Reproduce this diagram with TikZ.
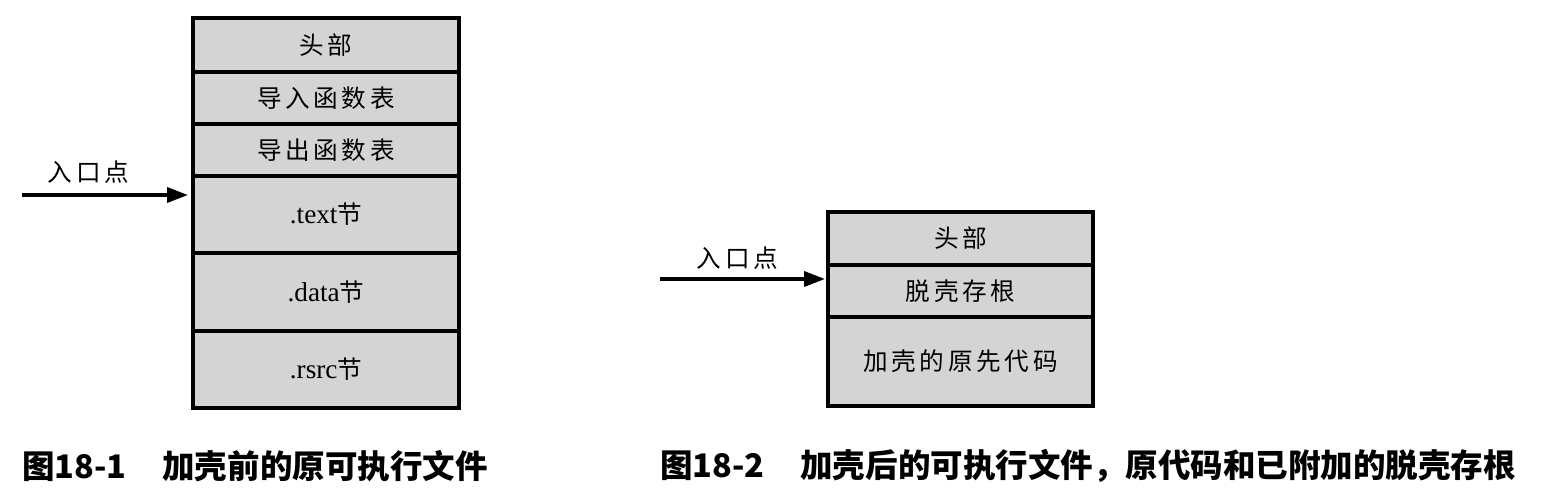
\documentclass[tikz,border=0pt]{standalone}
\usepackage{fontspec}
\setmainfont{Liberation Serif}
\newfontfamily\cjk[LetterSpace=15]{Noto Sans CJK SC}
\newfontfamily\capfont{Noto Sans CJK SC}
\newcommand{\cjktext}[1]{{\cjk\fontsize{14pt}{16pt}\selectfont #1}}
\usepackage{tikz}
\usetikzlibrary{arrows.meta, positioning}
\definecolor{sectfill}{RGB}{212,212,212}

\begin{document}
\begin{tikzpicture}[
    every node/.style={font=\fontsize{15.5pt}{17pt}\selectfont},
    sect/.style={draw, line width=2pt, fill=sectfill, rectangle,
        outer sep=0pt, inner sep=0pt, minimum width=5.32cm},
    entry/.style={line width=2pt, -{Triangle[length=0.42cm, width=0.3cm]}},
    caption/.style={anchor=west, inner sep=0pt,
        font=\capfont\bfseries\fontsize{18.5pt}{20pt}\selectfont},
]
    \useasboundingbox (0,0) rectangle (30.92,9.84);

    % Original executable
    \node[sect, minimum height=1.08cm, anchor=north west] (hdrA) at (3.86,9.48) {\cjktext{头部}};
    \node[sect, minimum height=1.04cm, below=0pt of hdrA] (impA) {\cjktext{导入函数表}};
    \node[sect, minimum height=1.04cm, below=0pt of impA] (expA) {\cjktext{导出函数表}};
    \node[sect, minimum height=1.54cm, below=0pt of expA] (textA) {.text\cjktext{节}};
    \node[sect, minimum height=1.56cm, below=0pt of textA] (dataA) {.data\cjktext{节}};
    \node[sect, minimum height=1.54cm, below=0pt of dataA] (rsrcA) {.rsrc\cjktext{节}};

    \coordinate (tipA) at ([xshift=-0.1cm, yshift=-0.38cm]textA.north west);
    \coordinate (startA) at ([xshift=-3.32cm]tipA);
    \draw[entry] (startA) -- (tipA) node[pos=0.4, above, yshift=0.08cm] (lblA) {\cjktext{入口点}};

    % Packed executable
    \node[sect, minimum width=5.3cm, minimum height=1.06cm, anchor=north west] (hdrB) at (16.56,5.6) {\cjktext{头部}};
    \node[sect, minimum width=5.3cm, minimum height=1.04cm, below=0pt of hdrB] (stubB) {\cjktext{脱壳存根}};
    \node[sect, minimum width=5.3cm, minimum height=1.78cm, below=0pt of stubB] (codeB) {\cjktext{加壳的原先代码}};

    \coordinate (tipB) at ([xshift=-0.06cm, yshift=-0.28cm]stubB.north west);
    \coordinate (startB) at ([xshift=-3.3cm]tipB);
    \draw[entry] (startB) -- (tipB) node[pos=0.47, above, yshift=0.04cm] (lblB) {\cjktext{入口点}};

    % Captions
    \node[caption] (capA) at (0.44,0.52) {图18-1\hspace{1.1em}加壳前的原可执行文件};
    \node[caption] (capB) at (13.2,0.52) {图18-2\hspace{1.1em}加壳后的可执行文件，原代码和已附加的脱壳存根};
\end{tikzpicture}
\end{document}
